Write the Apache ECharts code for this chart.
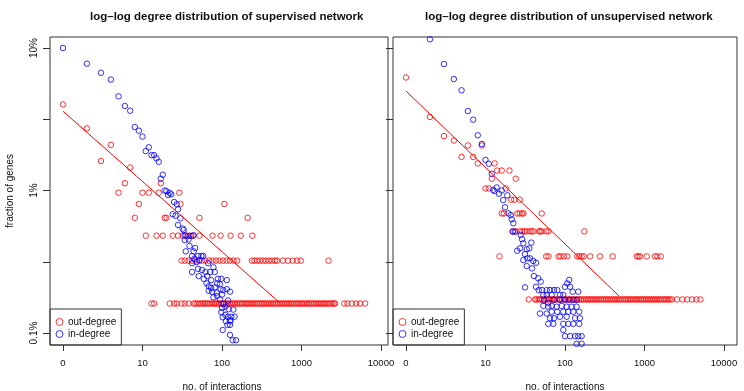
<!DOCTYPE html>
<html>
<head>
<meta charset="utf-8">
<title>log-log degree distribution</title>
<script src="https://cdn.jsdelivr.net/npm/echarts@6/dist/echarts.min.js"></script>
<style>
  html, body { margin: 0; padding: 0; background: #fff; }
  #main { width: 744px; height: 391px; }
</style>
</head>
<body>
<div id="main"></div>
<script>
// axis ticks (the original labels degree 1 as "0")
const xTickValues = [1, 10, 100, 1000, 10000];
const xTickLabels = ['0', '10', '100', '1000', '10000'];
const yLabelValues = [0.1, 1, 10];          // percent
const yLabelTexts = ['0.1%', '1%', '10%'];
const yTickValues = [0.1, 0.3162, 1, 3.162, 10];

// supervised network, out-degree: one fraction level (percent) per row of degrees
const supOutPct = [4.02, 2.73, 2.09, 1.61, 1.45, 1.125, 0.965, 0.804, 0.643, 0.482, 0.322, 0.161];
const supOutDeg = [
  [1], [2], [4], [3], [7], [6, 17],
  [5, 10, 12, 16, 29],
  [9, 30, 107],
  [8, 19, 20, 52, 210],
  [11, 15, 18, 24, 28, 32, 35, 39, 43, 52, 76, 96, 128, 172, 241],
  [31, 34, 38, 42, 46, 51, 56, 62, 69, 76, 84, 93, 103, 114, 126, 140, 155, 238, 256, 276, 300,
   328, 358, 390, 426, 464, 492, 585, 676, 775, 878, 977, 2186],
  [13, 14, 22, 25, 27, 31, 34, 38, 44, 46, 49, 52, 55, 58, 61, 64, 67, 71, 75, 79, 83, 87, 92, 97,
   102, 107, 113, 119, 125, 132, 139, 146, 154, 162, 171, 180, 190, 200, 211, 222, 234, 246, 259,
   273, 288, 303, 319, 336, 354, 373, 393, 414, 436, 459, 484, 510, 537, 566, 596, 628, 662, 697,
   735, 774, 815, 859, 905, 953, 1004, 1058, 1115, 1175, 1238, 1304, 1374, 1448, 1525, 1607, 1693,
   1784, 1880, 1980, 2086, 2200, 2320, 2450, 2580, 2640, 3450, 3780, 4300, 4850, 5450, 6300]
];

// supervised network, in-degree: [degree, percent]
const supIn = [
  [1, 10.0], [2, 7.76], [3, 6.7], [4, 6.0], [5, 4.58], [6, 3.92], [7, 3.63], [8, 2.79], [9, 2.63],
  [10, 2.39], [11, 1.89], [12, 2.01], [13, 1.77], [14, 1.77], [15, 1.68], [16, 1.59], [18, 1.29],
  [17, 1.21], [19, 1.0], [20, 0.99], [21, 0.93], [22, 0.96], [23, 0.94], [25, 0.83], [27, 0.80],
  [28, 0.738], [24, 0.681], [26, 0.665], [30, 0.638], [28, 0.573], [32, 0.54], [33, 0.528],
  [34, 0.485], [37, 0.48], [41, 0.48], [44, 0.485], [34, 0.449], [38, 0.454], [39, 0.408],
  [46, 0.395], [35, 0.374], [44, 0.374], [42, 0.347], [45, 0.332], [50, 0.347], [55, 0.347],
  [58, 0.347], [52, 0.325], [48, 0.315], [42, 0.309], [67, 0.309], [42, 0.268], [50, 0.282],
  [56, 0.277], [62, 0.268], [71, 0.268], [78, 0.289], [81, 0.268], [65, 0.251], [51, 0.251],
  [59, 0.24], [73, 0.235], [89, 0.24], [98, 0.24], [115, 0.235], [64, 0.223], [68, 0.213],
  [73, 0.207], [81, 0.209], [87, 0.223], [94, 0.22], [68, 0.198], [75, 0.194], [86, 0.192],
  [96, 0.203], [104, 0.2], [115, 0.203], [126, 0.195], [87, 0.182], [78, 0.178], [100, 0.186],
  [94, 0.172], [119, 0.169], [104, 0.16], [110, 0.153], [100, 0.15], [121, 0.147], [139, 0.146],
  [98, 0.14], [110, 0.134], [119, 0.13], [131, 0.13], [144, 0.13], [102, 0.129], [126, 0.123],
  [112, 0.121], [128, 0.121], [117, 0.114], [126, 0.114], [102, 0.105], [126, 0.097],
  [136, 0.089], [150, 0.089]
];

// unsupervised network, out-degree
const unsupOutPct = [6.21, 3.28, 2.41, 2.24, 2.07, 1.72, 1.55, 1.38, 1.21, 1.034, 0.862, 0.690, 0.517, 0.345, 0.172];
const unsupOutDeg = [
  [1], [2], [3], [4], [6, 9], [5, 7], [8, 13], [14, 16, 20], [12, 24], [10, 11, 18],
  [21, 23, 27],
  [16, 17, 25, 27, 29, 30, 51],
  [22, 24, 27, 29, 31, 33, 36, 38, 40, 47, 49, 51, 58, 62, 175],
  [15, 58, 62, 83, 88, 97, 107, 143, 151, 162, 173, 207, 276, 398, 800, 840, 878, 1066, 1356,
   1449, 1600],
  [35, 42, 44, 47, 49, 52, 55, 58, 61, 64, 68, 71, 75, 79, 84, 88, 93, 98, 103, 109, 115, 121,
   128, 135, 142, 150, 158, 166, 175, 185, 195, 205, 216, 228, 240, 253, 267, 281, 297, 313, 330,
   347, 366, 386, 407, 429, 452, 477, 502, 530, 558, 588, 620, 654, 689, 726, 766, 807, 851, 897,
   945, 996, 1050, 1107, 1167, 1230, 1296, 1366, 1440, 1518, 1600, 1686, 1778, 1874, 1975, 2080,
   2200, 2560, 3000, 3450, 3950, 4500, 5050]
];

// unsupervised network, in-degree
const unsupIn = [
  [2, 11.5], [3, 7.72], [4, 6.05], [5, 5.05], [6, 3.61], [7, 3.14], [8, 2.44], [9, 2.12],
  [10, 1.64], [11, 1.54], [12, 1.31], [13.8, 1.05], [13, 0.99], [14.8, 0.95], [16, 1.0],
  [18.8, 0.925], [12.5, 1.01], [16.7, 0.857], [17.6, 0.762], [19.4, 0.692], [20.7, 0.673],
  [21.4, 0.628], [22.4, 0.589], [22, 0.514], [23.3, 0.514], [27.7, 0.488], [28.8, 0.455],
  [37.7, 0.431], [29.9, 0.426], [25.1, 0.378], [27.2, 0.393], [33, 0.387], [35.6, 0.393],
  [31.4, 0.358], [33.6, 0.334], [36.3, 0.334], [29.9, 0.325], [39.9, 0.32], [43.2, 0.311],
  [33, 0.295], [38.5, 0.284], [40.7, 0.251], [46.1, 0.242], [49.5, 0.229], [43.2, 0.211],
  [31.4, 0.209], [46.7, 0.2], [51.4, 0.2], [58.9, 0.2], [64.8, 0.2], [72.7, 0.2], [80, 0.2],
  [53.4, 0.185], [58.9, 0.185], [68, 0.185], [86.5, 0.185], [95.2, 0.185], [113, 0.236],
  [107, 0.223], [100, 0.211], [116, 0.211], [125, 0.195], [147, 0.195], [54.4, 0.169],
  [61.7, 0.163], [72.7, 0.171], [86.5, 0.171], [100, 0.171], [113, 0.171], [127, 0.171],
  [140, 0.171], [53.4, 0.155], [61.7, 0.153], [68, 0.155], [78.6, 0.153], [90.8, 0.155],
  [105, 0.153], [121, 0.153], [140, 0.153], [48.5, 0.137], [58.9, 0.137], [68, 0.141],
  [80, 0.141], [95.2, 0.141], [110, 0.141], [127, 0.141], [151, 0.141], [64.8, 0.127],
  [72.7, 0.127], [86.5, 0.13], [105, 0.13], [134, 0.127], [154, 0.127], [61.7, 0.116],
  [71.3, 0.116], [95.2, 0.116], [110, 0.116], [127, 0.116], [151, 0.116], [95.2, 0.105],
  [100, 0.095], [116, 0.095], [134, 0.095], [147, 0.095], [162, 0.095], [140, 0.084], [162, 0.084]
];

// fitted power-law lines (end points)
const supFitDeg = [1, 526];
const supFitPct = [3.6, 0.164];
const unsupFitDeg = [1, 478];
const unsupFitPct = [4.99, 0.182];

const FONT = '"Liberation Sans", Arial, Helvetica, sans-serif';
const lx = d => Math.log10(d);
const ly = p => Math.log10(p / 100);

function rowsToPoints(pcts, degs) {
  const pts = [];
  pcts.forEach((p, i) => degs[i].forEach(d => pts.push([lx(d), ly(p)])));
  return pts;
}
function pairsToPoints(pairs) {
  return pairs.map(([d, p]) => [lx(d), ly(p)]);
}
function lineToPoints(degs, pcts) {
  return degs.map((d, i) => [lx(d), ly(pcts[i])]);
}
function labelFor(values, texts, v) {
  const i = values.findIndex(t => Math.abs(Math.log10(t) - v) < 1e-6);
  return i < 0 ? '' : texts[i];
}
function labelForPct(v) {
  const i = yLabelValues.findIndex(t => Math.abs(ly(t) - v) < 1e-6);
  return i < 0 ? '' : yLabelTexts[i];
}

function makeX(gridIndex, max, namePad) {
  return {
    type: 'value', gridIndex: gridIndex, min: -0.1635, max: max,
    axisLine: { show: false, onZero: false },
    splitLine: { show: false },
    axisTick: { show: true, length: 6, customValues: xTickValues.map(lx), lineStyle: { color: '#333' } },
    axisLabel: {
      customValues: xTickValues.map(lx), margin: 13, fontSize: 9.5, color: '#111', fontFamily: FONT,
      formatter: v => labelFor(xTickValues, xTickLabels, v)
    },
    name: 'no. of interactions', nameLocation: 'middle', nameGap: 37,
    nameTextStyle: { fontSize: 10, color: '#111', fontFamily: FONT, padding: namePad }
  };
}
function makeY(gridIndex, showLabels) {
  return {
    type: 'value', gridIndex: gridIndex, min: -3.0842, max: -0.9228,
    axisLine: { show: false, onZero: false },
    splitLine: { show: false },
    axisTick: { show: true, length: 7, customValues: yTickValues.map(ly), lineStyle: { color: '#333' } },
    axisLabel: {
      show: showLabels, customValues: yLabelValues.map(ly), rotate: 90, margin: 11,
      fontSize: 10, color: '#111', fontFamily: FONT, formatter: labelForPct
    },
    name: showLabels ? 'fraction of genes' : '', nameLocation: 'middle', nameGap: 35,
    nameTextStyle: { fontSize: 10, color: '#111', fontFamily: FONT }
  };
}
function makeLegend(left) {
  return {
    orient: 'vertical', left: left, top: 309,
    padding: [7, 5, 5, 5.5], itemGap: 0, itemWidth: 7, itemHeight: 7,
    borderColor: '#333', borderWidth: 1, borderRadius: 0,
    icon: 'circle',
    itemStyle: { color: 'transparent', borderWidth: 1 },
    textStyle: { fontSize: 10, lineHeight: 12, color: '#111', fontFamily: FONT },
    data: [
      { name: 'out-degree', itemStyle: { color: 'transparent', borderColor: '#ff0000', borderWidth: 1 } },
      { name: 'in-degree', itemStyle: { color: 'transparent', borderColor: '#0000ff', borderWidth: 1 } }
    ]
  };
}
function scatter(name, color, axis, data) {
  return {
    name: name, type: 'scatter', xAxisIndex: axis, yAxisIndex: axis,
    symbol: 'circle', symbolSize: 5.5, silent: true,
    itemStyle: { color: 'transparent', borderColor: color, borderWidth: 1 },
    data: data
  };
}
function fitLine(axis, data) {
  return {
    name: 'fit', type: 'line', xAxisIndex: axis, yAxisIndex: axis, symbol: 'none', silent: true,
    lineStyle: { color: '#ff0000', width: 1 }, data: data
  };
}

let myChart = echarts.init(document.getElementById('main'));
myChart.setOption({
  animation: false,
  backgroundColor: '#fff',
  title: [
    { text: 'log\u2013log degree distribution of supervised network', left: 85, top: 6,
      textStyle: { fontSize: 11.5, fontWeight: 'bold', color: '#111', fontFamily: FONT } },
    { text: 'log\u2013log degree distribution of unsupervised network', left: 420, top: 6,
      textStyle: { fontSize: 11.5, fontWeight: 'bold', color: '#111', fontFamily: FONT } }
  ],
  // outerBoundsMode none: keep the plot boxes exactly where the original has them
  grid: [
    { left: 50, top: 37, width: 338, height: 308, show: true, borderColor: '#333', borderWidth: 1,
      outerBoundsMode: 'none', containLabel: false },
    { left: 393, top: 37, width: 344, height: 308, show: true, borderColor: '#333', borderWidth: 1,
      outerBoundsMode: 'none', containLabel: false }
  ],
  legend: [makeLegend(50), makeLegend(393)],
  xAxis: [makeX(0, 4.088, [0, 0, 0, 6]), makeX(1, 4.164, [0, 0, 0, 0])],
  yAxis: [makeY(0, true), makeY(1, false)],
  series: [
    scatter('out-degree', '#ff0000', 0, rowsToPoints(supOutPct, supOutDeg)),
    scatter('in-degree', '#0000ff', 0, pairsToPoints(supIn)),
    fitLine(0, lineToPoints(supFitDeg, supFitPct)),
    scatter('out-degree', '#ff0000', 1, rowsToPoints(unsupOutPct, unsupOutDeg)),
    scatter('in-degree', '#0000ff', 1, pairsToPoints(unsupIn)),
    fitLine(1, lineToPoints(unsupFitDeg, unsupFitPct))
  ]
});
window.onresize = myChart.resize;
</script>
</body>
</html>
